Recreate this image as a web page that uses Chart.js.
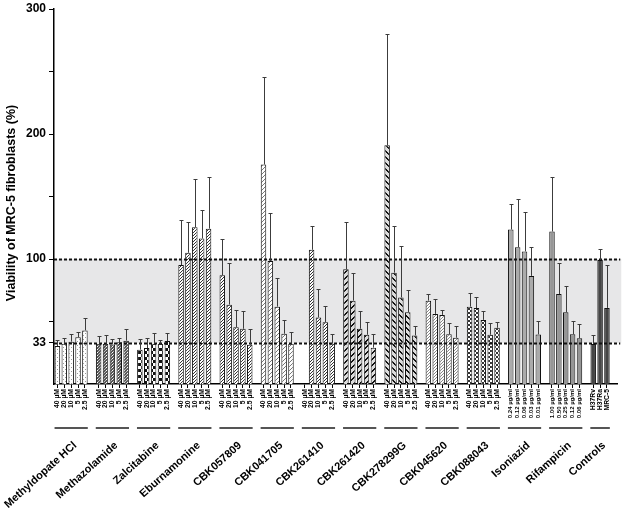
<!DOCTYPE html>
<html lang="en">
<head>
<meta charset="UTF-8">
<title>Viability of MRC-5 fibroblasts</title>
<style>
  html, body { margin: 0; padding: 0; background: #fff; }
  #wrap { width: 623px; height: 512px; }
</style>
</head>
<body>
<div id="wrap"><canvas id="myChart"></canvas></div>
<script src="https://cdn.jsdelivr.net/npm/chart.js"></script>
<script>
// ---- data ----
const groupNames = ['Methyldopate HCl', 'Methazolamide', 'Zalcitabine', 'Eburnamonine', 'CBK057809',
  'CBK041705', 'CBK261410', 'CBK261420', 'CBK278299G', 'CBK045620', 'CBK088043',
  'Isoniazid', 'Rifampicin', 'Controls'];
const doseUM = ['40 µM', '20 µM', '10 µM', '5 µM', '2.5 µM'];
const doseIsoniazid = ['0.24 µg/ml', '0.12 µg/ml', '0.06 µg/ml', '0.03 µg/ml', '0.01 µg/ml'];
const doseRifampicin = ['1.00 µg/ml', '0.50 µg/ml', '0.25 µg/ml', '0.12 µg/ml', '0.06 µg/ml'];
const controlNames = ['H37Rv', 'H37Ra', 'MRC-5'];

const meanValues = [
  [30.4, 32.3, 33.9, 37.5, 42.9],
  [32.3, 32.3, 31.7, 33.4, 34.7],
  [27.5, 28.8, 32.3, 32.3, 34.4],
  [95.2, 105.0, 125.4, 116.4, 124.3],
  [87.0, 63.5, 45.5, 44.2, 31.5],
  [175.6, 98.4, 61.9, 40.2, 32.3],
  [null, 107.4, 53.2, 49.4, 32.3],
  [91.8, 66.7, 44.2, 39.4, 29.1],
  [191.0, 89.1, 69.3, 57.4, 38.9],
  [66.7, 56.1, 55.3, 39.9, 37.0],
  [61.9, 60.8, 51.3, 39.4, 45.0],
  [123.6, 109.5, 106.1, 86.5, 39.7],
  [122.0, 72.0, 57.4, 39.9, 36.7],
  [32.0, 99.2, 60.9]
];
const errValues = [
  [4.5, 4.5, 6.3, 4.0, 9.7],
  [5.8, 7.1, 4.6, 3.6, 9.5],
  [8.5, 8.2, 8.7, 2.6, 6.3],
  [36.3, 24.6, 38.3, 23.0, 41.6],
  [29.1, 33.6, 13.8, 14.0, 12.7],
  [69.9, 38.6, 23.0, 11.4, 9.2],
  [null, 19.3, 22.7, 12.7, 7.9],
  [37.6, 22.4, 14.0, 10.6, 10.6],
  [88.9, 37.1, 41.0, 17.7, 7.9],
  [5.3, 11.9, 4.0, 9.1, 9.8],
  [11.1, 8.5, 6.9, 9.6, 4.4],
  [20.6, 38.7, 31.7, 22.8, 10.9],
  [43.6, 24.6, 20.9, 10.9, 11.5],
  [7.4, 8.5, 34.1]
];
const yTickLabels = [33, 100, 200, 300];
const yMinorTicks = [50, 150, 250];
const refLow = 33, refHigh = 100;

// ---- fill patterns ----
function makePattern(size, draw) {
  const c = document.createElement('canvas');
  c.width = size; c.height = size;
  const g = c.getContext('2d');
  draw(g, size);
  return g.createPattern(c, 'repeat');
}
function px(g, col, pts) { g.fillStyle = col; pts.forEach(p => g.fillRect(p[0], p[1], p[2] || 1, p[3] || 1)); }

const patDots = makePattern(4, (g) => { px(g, '#fff', [[0, 0, 4, 4]]); px(g, '#9a9a9a', [[1, 1], [3, 3]]); });
const patDarkGrid = makePattern(3, (g) => { px(g, '#555', [[0, 0, 3, 3]]); px(g, '#fff', [[1, 1]]); px(g, '#bbb', [[2, 0], [0, 2]]); });
const patChecker = makePattern(6, (g) => { px(g, '#111', [[0, 0, 6, 6]]); px(g, '#fff', [[0, 0, 3, 3], [3, 3, 3, 3]]); });
const patDiagDense = makePattern(3, (g) => { px(g, '#fff', [[0, 0, 3, 3]]); px(g, '#333', [[0, 2], [1, 1], [2, 0]]); });
const patDiagLight = makePattern(4, (g) => { px(g, '#fff', [[0, 0, 4, 4]]); px(g, '#777', [[0, 3], [1, 2], [2, 1], [3, 0]]); });
const patStripe = makePattern(6, (g) => {
  px(g, '#ddd', [[0, 0, 6, 6]]);
  px(g, '#111', [[0, 5], [1, 4], [2, 3], [3, 2], [4, 1], [5, 0], [0, 4], [1, 3], [2, 2], [3, 1], [4, 0], [5, 5]]);
});
const patZigzag = makePattern(6, (g) => {
  px(g, '#ddd', [[0, 0, 6, 6]]);
  px(g, '#111', [[0, 0], [1, 1], [2, 2], [3, 3], [4, 4], [5, 5], [1, 0], [2, 1], [3, 2], [4, 3], [5, 4], [0, 5]]);
});
const patFineCheck = makePattern(3, (g) => { px(g, '#fff', [[0, 0, 3, 3]]); px(g, '#888', [[0, 0], [2, 1], [1, 2]]); });
const patMidCheck = makePattern(4, (g) => { px(g, '#fff', [[0, 0, 4, 4]]); px(g, '#333', [[0, 0, 2, 2], [2, 2, 2, 2]]); });

const groupFills = [patDots, patDarkGrid, patChecker, patDiagDense, patDiagDense, patDiagLight,
  patDiagDense, patStripe, patZigzag, patFineCheck, patMidCheck, '#ababab', '#969696', '#454545'];
const groupDoses = groupNames.map((n, g) => g < 11 ? doseUM : (g === 11 ? doseIsoniazid : (g === 12 ? doseRifampicin : controlNames)));

// flatten into slots, one empty slot after every group
const labels = [], values = [], errors = [], fills = [], groupSlots = [];
groupNames.forEach((name, g) => {
  const start = labels.length;
  groupDoses[g].forEach((d, k) => {
    labels.push(d);
    values.push(meanValues[g][k]);
    errors.push(errValues[g][k]);
    fills.push(groupFills[g]);
  });
  groupSlots.push([start, labels.length - 1]);
  labels.push(''); values.push(null); errors.push(null); fills.push('rgba(0,0,0,0)');
});

const FONT = '"Liberation Sans", Arial, sans-serif';

const refBand = {
  id: 'refBand',
  beforeDatasetsDraw(chart) {
    const { ctx, chartArea, scales: { y } } = chart;
    ctx.save();
    ctx.fillStyle = '#e7e7e8';
    ctx.fillRect(chartArea.left + 1, y.getPixelForValue(refHigh), chartArea.right + 3 - chartArea.left, y.getPixelForValue(refLow) - y.getPixelForValue(refHigh));
    ctx.restore();
  },
  afterDatasetsDraw(chart) {
    const { ctx, chartArea, scales: { x, y } } = chart;
    ctx.save();
    // dashed reference lines
    ctx.strokeStyle = '#111';
    ctx.lineWidth = 1.8;
    ctx.setLineDash([3, 2]);
    [refLow, refHigh].forEach(v => {
      const py = Math.round(y.getPixelForValue(v)) + 0.5;
      ctx.beginPath();
      ctx.moveTo(chartArea.left, py);
      ctx.lineTo(chartArea.right + 3, py);
      ctx.stroke();
    });
    ctx.setLineDash([]);
    // error bars (upper only)
    const meta = chart.getDatasetMeta(0);
    ctx.strokeStyle = '#3c3c3c';
    ctx.lineWidth = 1;
    errors.forEach((e, i) => {
      if (e == null || values[i] == null) return;
      const bx = Math.round(meta.data[i].x) + 0.5;
      const y0 = y.getPixelForValue(values[i]);
      const y1 = Math.round(y.getPixelForValue(values[i] + e)) + 0.5;
      ctx.beginPath();
      ctx.moveTo(bx, y0);
      ctx.lineTo(bx, y1);
      ctx.moveTo(bx - 2, y1);
      ctx.lineTo(bx + 2, y1);
      ctx.stroke();
    });
    ctx.restore();
  },
  afterDraw(chart) {
    const { ctx, chartArea, scales: { x } } = chart;
    const half = (x.getPixelForValue(1) - x.getPixelForValue(0)) * 0.42;
    ctx.save();
    ctx.fillStyle = '#000';
    ctx.font = 'bold 11px ' + FONT;
    groupSlots.forEach((s, g) => {
      const x1 = x.getPixelForValue(s[0]) - half;
      const x2 = x.getPixelForValue(s[1]) + half;
      ctx.strokeStyle = '#555';
      ctx.lineWidth = 2;
      ctx.beginPath();
      ctx.moveTo(x1, 428);
      ctx.lineTo(x2, 428);
      ctx.stroke();
      ctx.save();
      ctx.translate((x1 + x2) / 2 + 4, 444);
      ctx.rotate(-42 * Math.PI / 180);
      ctx.textAlign = 'right';
      ctx.textBaseline = 'middle';
      ctx.fillText(groupNames[g], 0, 0);
      ctx.restore();
    });
    // y axis title
    ctx.save();
    ctx.font = 'bold 12.5px ' + FONT;
    ctx.translate(12, 203);
    ctx.rotate(-Math.PI / 2);
    ctx.textAlign = 'center';
    ctx.textBaseline = 'middle';
    ctx.fillText('Viability of MRC-5 fibroblasts (%)', 0, 0);
    ctx.restore();
    ctx.restore();
  }
};

const ctx = document.getElementById('myChart').getContext('2d');
const myChart = new Chart(ctx, {
  type: 'bar',
  data: {
    labels: labels,
    datasets: [{
      data: values,
      backgroundColor: fills,
      borderColor: '#111',
      borderWidth: 1,
      categoryPercentage: 1.0,
      barPercentage: 0.8
    }]
  },
  options: {
    responsive: true,
    maintainAspectRatio: false,
    animation: false,
    layout: { padding: { left: 0, top: 6, right: 4, bottom: 0 } },
    plugins: { legend: { display: false }, tooltip: { enabled: false } },
    scales: {
      x: {
        grid: {
          display: true, drawOnChartArea: false, offset: false, tickLength: 4, tickWidth: 1,
          tickColor: (c) => labels[c.index] ? '#000' : 'rgba(0,0,0,0)'
        },
        border: { display: true, color: '#000', width: 1.5 },
        ticks: {
          autoSkip: false, minRotation: 90, maxRotation: 90, padding: 1,
          color: '#000',
          font: (c) => ({ size: String(labels[c.index]).indexOf('µg') >= 0 ? 6 : 6.8, weight: 'bold', family: FONT })
        },
        afterFit: (s) => { s.height = 128; }
      },
      y: {
        min: 0, max: 300,
        afterBuildTicks: (s) => { s.ticks = yTickLabels.concat(yMinorTicks).sort((a, b) => a - b).map(v => ({ value: v })); },
        grid: { drawOnChartArea: false, tickLength: 5, tickColor: '#000' },
        border: { display: true, color: '#000', width: 1.5 },
        ticks: {
          padding: 3, color: '#000',
          font: { size: 12, weight: 'bold', family: FONT, lineHeight: 1 },
          callback: (v) => yTickLabels.includes(v) ? String(v) : ''
        },
        afterFit: (s) => { s.width = 54; }
      }
    }
  },
  plugins: [refBand]
});
</script>
</body>
</html>
